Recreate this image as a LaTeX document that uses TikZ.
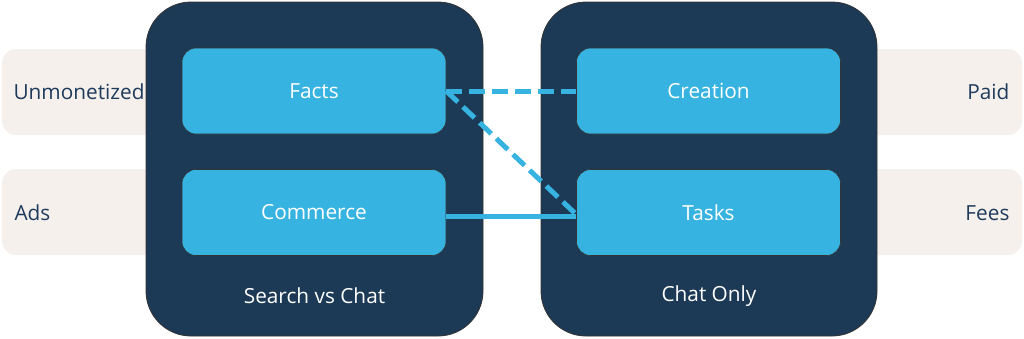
\documentclass[tikz,border=0pt]{standalone}
\usepackage{fontspec}
\setmainfont{Open Sans}
\definecolor{navy}{HTML}{1C3A56}
\definecolor{sky}{HTML}{36B3E0}
\definecolor{beige}{HTML}{F5F0EC}
\definecolor{ink}{HTML}{1E3B5C}
\begin{document}
\begin{tikzpicture}[x=1pt,y=-1pt,
  side/.style={fill=beige,draw=none,rounded corners=14pt},
  panel/.style={fill=navy,draw=black!80,line width=0.8pt,rounded corners=45pt},
  item/.style={fill=sky,draw=black!80,line width=0.6pt,rounded corners=14pt},
  lbl/.style={font=\fontsize{20.8}{24}\selectfont,text=ink},
  wlbl/.style={font=\fontsize{20.8}{24}\selectfont,text=white},
  link/.style={draw=sky,line width=5pt},
  dlink/.style={link,dash pattern=on 16pt off 7pt}]
\useasboundingbox (0,0) rectangle (1024,338);
% side bands
\draw[side] (2,49) rectangle (170,135);
\draw[side] (2,169) rectangle (170,255);
\draw[side] (850,49) rectangle (1022,135);
\draw[side] (850,169) rectangle (1022,255);
\node[lbl,anchor=west] (unm) at (10,92) {Unmonetized};
\node[lbl,anchor=west] (ads) at (11,213) {Ads};
\node[lbl,anchor=east] (paid) at (1013,92) {Paid};
\node[lbl,anchor=east] (fees) at (1013,213) {Fees};
% panels
\draw[panel] (146,2) rectangle (483,336);
\draw[panel] (541,2) rectangle (877,336);
\node[wlbl] (t1) at (314.5,296) {Search vs Chat};
\node[wlbl] (t2) at (709,296) {Chat Only};
% items
\node[item,minimum width=264pt,minimum height=86pt] (facts) at (314,91) {};
\node[item,minimum width=264pt,minimum height=86pt] (comm) at (314,212.5) {};
\node[item,minimum width=264pt,minimum height=86pt] (crea) at (708.5,91) {};
\node[item,minimum width=264pt,minimum height=86pt] (tasks) at (708.5,212.5) {};
\node[wlbl] at (facts) {Facts};
\node[wlbl] at (comm) {Commerce};
\node[wlbl] at (crea) {Creation};
\node[wlbl] at (tasks) {Tasks};
% links
\coordinate (fr) at (facts.east);
\draw[dlink] (fr) -- (crea.west);
\draw[dlink] (fr) -- ([yshift=-2pt]tasks.west);
\draw[link] ([yshift=-4pt]comm.east) -- ([yshift=-4pt]tasks.west);
\end{tikzpicture}
\end{document}
